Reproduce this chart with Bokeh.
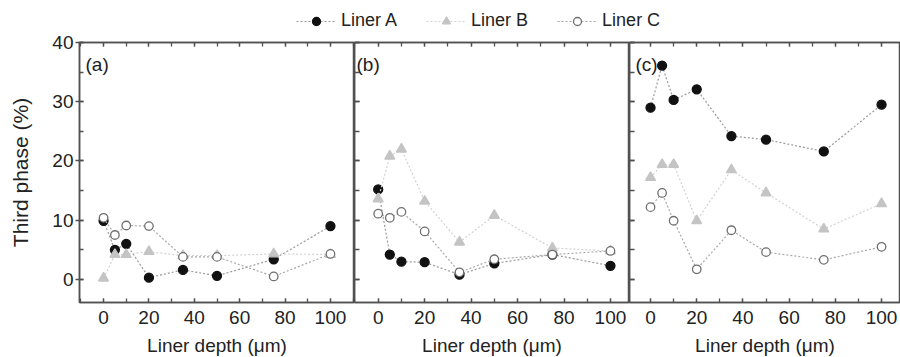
from bokeh.plotting import figure
from bokeh.models import (ColumnDataSource, Range1d, LinearAxis, Legend, LegendItem,
                          Label, SingleIntervalTicker, CustomLabelingPolicy)
from bokeh.layouts import column, row
from bokeh.embed import file_html
from bokeh.resources import INLINE

# ---------------- data ----------------
depth = [0, 5, 10, 20, 35, 50, 75, 100]

a_liner_a = [9.9, 5.0, 6.0, 0.3, 1.6, 0.6, 3.4, 9.0]
a_liner_b = [0.2, 4.2, 4.2, 4.7, 4.0, 4.0, 4.3, 4.2]
a_liner_c = [10.4, 7.5, 9.1, 9.0, 3.8, 3.8, 0.5, 4.3]

b_liner_a = [15.2, 4.2, 3.0, 2.9, 0.8, 2.7, 4.2, 2.3]
b_liner_b = [13.6, 20.8, 22.0, 13.2, 6.3, 10.8, 5.3, 4.8]
b_liner_c = [11.1, 10.4, 11.4, 8.1, 1.2, 3.4, 4.2, 4.8]

c_liner_a = [29.0, 36.1, 30.3, 32.1, 24.2, 23.6, 21.6, 29.5]
c_liner_b = [17.2, 19.4, 19.4, 9.9, 18.5, 14.6, 8.5, 12.8]
c_liner_c = [12.2, 14.6, 9.9, 1.7, 8.3, 4.6, 3.3, 5.5]

series_names = ["Liner A", "Liner B", "Liner C"]
panel_labels = ["(a)", "(b)", "(c)"]
x_label = "Liner depth (\u03bcm)"
y_label = "Third phase (%)"

FONT = "Liberation Sans"
AXIS_COLOR = "#505050"
TEXT_COLOR = "#222222"

STYLE_A = dict(line="#9a9a9a", marker="circle", fill="#111111", mline="#111111", size=9)
STYLE_B = dict(line="#d2d2d2", marker="triangle", fill="#c4c4c4", mline="#c4c4c4", size=10)
STYLE_C = dict(line="#a8a8a8", marker="circle", fill="#ffffff", mline="#707070", size=8.5)
STYLES = [STYLE_A, STYLE_B, STYLE_C]

NO_LABELS = "for (const i of indices) { indices.unset(i) }\nreturn indices"


def style_axis(ax, show_labels, tick_in=4, tick_out=0):
    ax.axis_line_color = AXIS_COLOR
    ax.axis_line_width = 1.5
    ax.major_tick_line_color = AXIS_COLOR
    ax.minor_tick_line_color = AXIS_COLOR
    ax.major_tick_line_width = 1.3
    ax.minor_tick_line_width = 1.3
    ax.major_tick_in = tick_in
    ax.major_tick_out = tick_out
    ax.minor_tick_in = tick_in
    ax.minor_tick_out = 0
    ax.major_label_text_font = FONT
    ax.major_label_text_color = TEXT_COLOR
    ax.axis_label_text_font = FONT
    ax.axis_label_text_color = TEXT_COLOR
    ax.axis_label_text_font_style = "normal"
    ax.axis_label_text_font_size = "19px"
    if show_labels:
        ax.major_label_text_font_size = "19px"
    else:
        ax.major_label_text_font_size = "0px"
        ax.major_label_standoff = 0
        ax.major_label_policy = CustomLabelingPolicy(code=NO_LABELS)


def make_panel(idx, values, xr, frame_w, first, label_dx):
    p = figure(frame_width=frame_w, frame_height=260,
               x_range=Range1d(*xr), y_range=Range1d(-3.9, 40),
               output_backend="svg", toolbar_location=None,
               x_axis_location=None, y_axis_location=None,
               min_border_left=79 if first else 0, min_border_right=0,
               min_border_top=9, min_border_bottom=55,
               background_fill_color="white", border_fill_color="white")
    p.outline_line_color = AXIS_COLOR
    p.outline_line_width = 1.5
    p.xgrid.visible = False
    p.ygrid.visible = False

    bottom = LinearAxis(ticker=SingleIntervalTicker(interval=20, num_minor_ticks=2),
                        axis_label=x_label)
    style_axis(bottom, True)
    bottom.major_label_standoff = 8
    bottom.axis_label_standoff = 8
    p.add_layout(bottom, "below")

    top = LinearAxis(ticker=SingleIntervalTicker(interval=20, num_minor_ticks=2))
    style_axis(top, False)
    p.add_layout(top, "above")

    left = LinearAxis(ticker=SingleIntervalTicker(interval=10, num_minor_ticks=2),
                      axis_label=y_label if first else None)
    if first:
        style_axis(left, True, tick_in=4, tick_out=4)
        left.major_label_standoff = 2
        left.axis_label_standoff = 17
        left.axis_label_text_font_size = "21px"
    else:
        style_axis(left, False, tick_in=5, tick_out=0)
    p.add_layout(left, "left")

    for vals, st in zip(values, STYLES):
        src = ColumnDataSource(dict(x=depth, y=vals))
        p.line("x", "y", source=src, line_color=st["line"], line_width=1.2, line_dash="2 2")
        p.scatter("x", "y", source=src, marker=st["marker"], size=st["size"],
                  fill_color=st["fill"], line_color=st["mline"], line_width=1.3)

    p.add_layout(Label(x=label_dx, y=228, x_units="screen", y_units="screen",
                       text=panel_labels[idx], text_font=FONT, text_font_size="19px",
                       text_color=TEXT_COLOR))
    return p


pa = make_panel(0, [a_liner_a, a_liner_b, a_liner_c], (-10.6, 110.6), 275, True, 6)
pb = make_panel(1, [b_liner_a, b_liner_b, b_liner_c], (-10.2, 108.2), 275, False, 2)
pc = make_panel(2, [c_liner_a, c_liner_b, c_liner_c], (-9.1, 108.2), 271, False, 6)

# ---------------- legend strip ----------------
# legend glyphs come from real renderers whose points lie outside this strip's view
lg = figure(width=900, height=33, x_range=Range1d(0, 1), y_range=Range1d(-100, -99),
            output_backend="svg", toolbar_location=None,
            x_axis_type=None, y_axis_type=None, min_border=0,
            background_fill_color="white", border_fill_color="white")
lg.outline_line_color = None
lg.xgrid.visible = False
lg.ygrid.visible = False
items = []
for name, vals, st in zip(series_names, [a_liner_a, a_liner_b, a_liner_c], STYLES):
    src = ColumnDataSource(dict(x=depth, y=vals))
    r1 = lg.line("x", "y", source=src, line_color=st["line"], line_width=1.2, line_dash="2 2")
    r2 = lg.scatter("x", "y", source=src, marker=st["marker"], size=st["size"],
                    fill_color=st["fill"], line_color=st["mline"], line_width=1.3)
    items.append(LegendItem(label=name, renderers=[r1, r2], index=0))
legend = Legend(items=items, orientation="horizontal", location=(296, 2),
                glyph_width=40, glyph_height=20, label_standoff=5, spacing=29,
                padding=0, margin=0, border_line_color=None, background_fill_alpha=0,
                label_text_font=FONT, label_text_font_size="18px",
                label_text_color=TEXT_COLOR)
lg.add_layout(legend, "center")

layout = column(lg, row(pa, pb, pc, spacing=0), spacing=0)
open("out.html", "w").write(file_html(layout, INLINE))
